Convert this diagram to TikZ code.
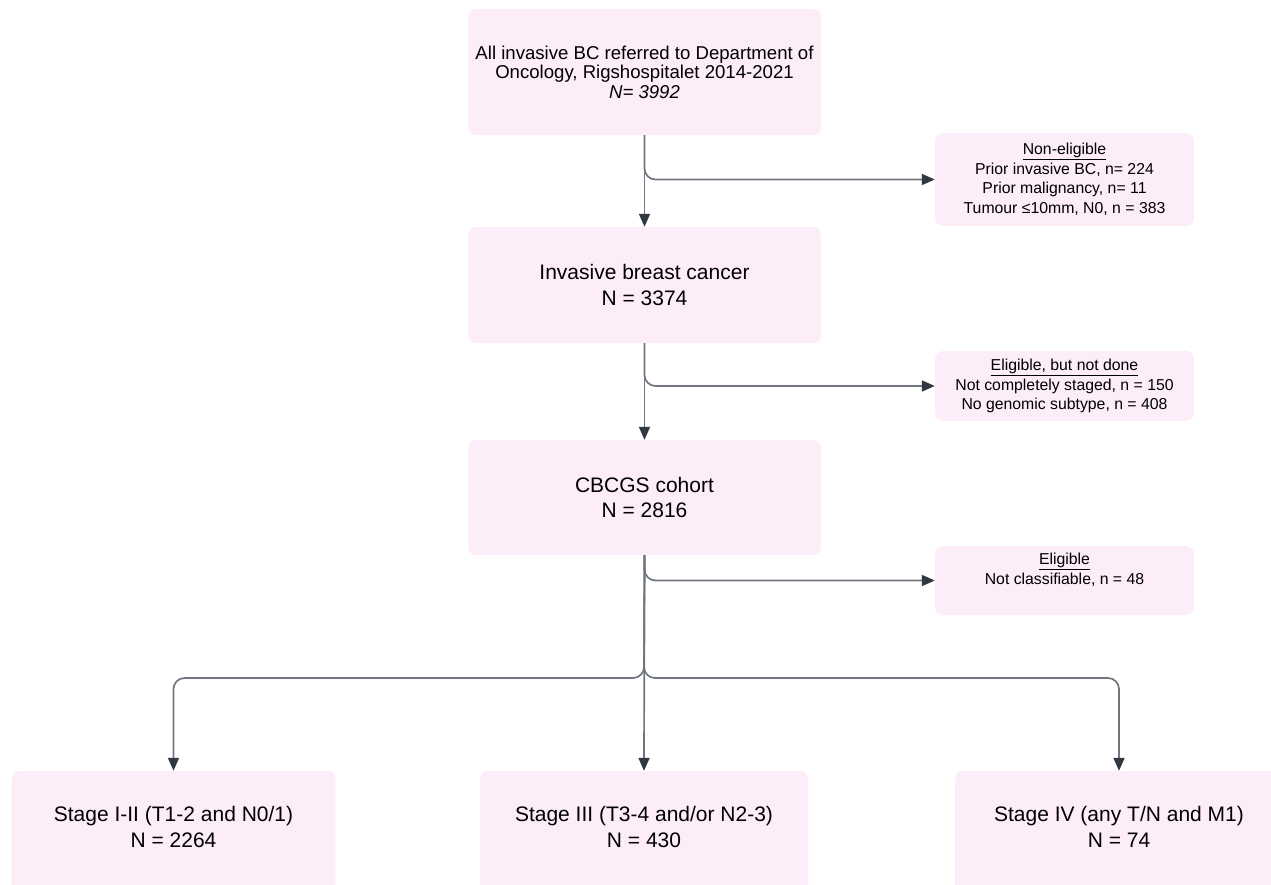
\documentclass[tikz,border=0pt]{standalone}
\usepackage{fontspec}
\setmainfont{Liberation Sans}
\usetikzlibrary{arrows.meta}
\definecolor{boxfill}{RGB}{253,237,248}
\definecolor{linec}{RGB}{112,118,128}
\definecolor{tipc}{RGB}{50,56,66}
\begin{document}
\begin{tikzpicture}[x=1pt,y=-1pt,
  box/.style={fill=boxfill, draw=none, rounded corners=8pt, align=center, inner sep=0pt},
  mainfont/.style={font=\fontsize{21}{25.5}\selectfont},
  topfont/.style={font=\fontsize{18.6}{19.5}\selectfont},
  sidefont/.style={font=\fontsize{15.8}{19.5}\selectfont},
  conn/.style={draw=linec, line width=1.7pt, -{Triangle[length=13pt,width=11pt,color=tipc,fill=tipc]}},
  roundbend/.style={rounded corners=11pt}]
\useasboundingbox (0,0) rectangle (1271,884);
\clip (0,0) rectangle (1271,884);
% main column
\node[box, topfont, minimum width=353pt, minimum height=126pt] (top) at (644.5,72)
  {All invasive BC referred to Department of\\Oncology, Rigshospitalet 2014-2021\\\textit{N= 3992}};
\node[box, mainfont, minimum width=353pt, minimum height=116pt] (inv) at (644.5,285)
  {Invasive breast cancer\\N = 3374};
\node[box, mainfont, minimum width=353pt, minimum height=115pt] (cb) at (644.5,497.5)
  {CBCGS cohort\\N = 2816};
% side boxes
\node[box, sidefont, minimum width=259pt, minimum height=93pt] (ne) at (1064.5,179.5)
  {\underline{Non-eligible}\\Prior invasive BC, n= 224\\Prior malignancy, n= 11\\Tumour ≤10mm, N0, n = 383};
\node[box, sidefont, minimum width=259pt, minimum height=70pt] (eb) at (1064.5,386)
  {\underline{Eligible, but not done}\\Not completely staged, n = 150\\No genomic subtype, n = 408};
\node[box, minimum width=259pt, minimum height=69pt,
  label={[sidefont, align=center, anchor=center, yshift=-24pt]north:\underline{Eligible}\\Not classifiable, n = 48}] (el) at (1064.5,580.5) {};
% bottom boxes
\node[box, minimum width=324pt, minimum height=130pt,
  label={[mainfont, align=center, anchor=center, yshift=-56pt]north:Stage I-II (T1-2 and N0/1)\\N = 2264}] (s1) at (173.5,836) {};
\node[box, minimum width=328pt, minimum height=130pt,
  label={[mainfont, align=center, anchor=center, yshift=-56pt]north:Stage III (T3-4 and/or N2-3)\\N = 430}] (s2) at (644,836) {};
\node[box, minimum width=328pt, minimum height=130pt,
  label={[mainfont, align=center, anchor=center, yshift=-56pt]north:Stage IV (any T/N and M1)\\N = 74}] (s3) at (1119,836) {};
% connectors
\draw[conn] (top.south) -- (inv.north);
\draw[conn, roundbend] (top.south) |- (ne.west);
\draw[conn] (inv.south) -- (cb.north);
\draw[conn, roundbend] (inv.south) |- (eb.west);
\draw[conn, roundbend] (cb.south) |- (el.west);
\coordinate (split) at (644,678);
\draw[conn] (cb.south) -- (s2.north);
\draw[conn, roundbend] (cb.south) -- (split) -| (s1.north);
\draw[conn, roundbend] (cb.south) -- (split) -| (s3.north);
\end{tikzpicture}
\end{document}
